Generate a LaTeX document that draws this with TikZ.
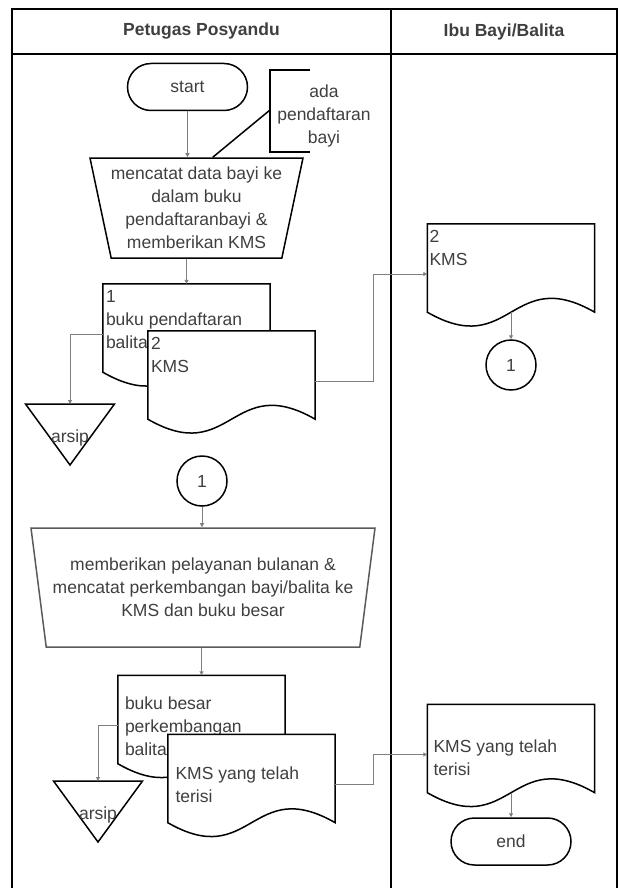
\documentclass[tikz,border=0pt]{standalone}
\usepackage{fontspec}
\setmainfont{Liberation Sans}
\usepackage{tikz}
\usetikzlibrary{calc,positioning,shapes.geometric,shapes.misc,arrows.meta}
\definecolor{flowgray}{HTML}{7F7F7F}
\definecolor{textgray}{HTML}{3F3F3F}
\definecolor{edgegray}{HTML}{5A5A5A}

\newcommand{\docoutline}[1]{%
  \draw[shapeline, fill=white] (#1.north west) -- (#1.north east) -- (#1.south east)
    .. controls ($(#1.south)+(0,-48)$) and ($(#1.south)+(0,48)$) .. (#1.south west) -- cycle;}

\begin{document}
\begin{tikzpicture}[x=1pt, y=-1pt,
  lane/.style={draw=black, line width=1.8pt},
  shapeline/.style={draw=black, line width=1.5pt},
  flow/.style={draw=flowgray, line width=1pt, -{Triangle[length=4pt,width=4pt]}},
  txt/.style={font=\fontsize{17.5pt}{23pt}\selectfont, text=textgray},
  head/.style={font=\fontsize{17.5pt}{21pt}\selectfont\bfseries, text=textgray},
  term/.style={txt, shapeline, rounded rectangle, minimum width=120pt, minimum height=47pt, inner sep=0pt},
  manop/.style={txt, shapeline, trapezium, trapezium left angle=104.5, trapezium right angle=104.5,
    trapezium stretches body, align=center, inner xsep=-12pt, inner ysep=0pt},
  doc/.style={minimum width=167pt, minimum height=88pt, inner sep=0pt},
  doctext/.style={txt, anchor=north west, align=left, inner sep=0pt},
  connector/.style={txt, shapeline, circle, minimum size=50pt, inner sep=0pt}]

\useasboundingbox (0,0) rectangle (619,888);

\draw[lane] (12,888) -- (12,9) -- (617,9) -- (617,888);
\draw[lane] (12,54) -- (617,54);
\draw[lane] (391,9) -- (391,888);
\node[head] (h1) at (201.5,31.5) {Petugas Posyandu};
\node[head] (h2) at (504,31.5) {Ibu Bayi/Balita};

\node[term] (st) at (187.5,87) {start};
\node[manop, minimum width=213pt, minimum height=100pt] (mc1) at (196.5,208)
  {mencatat data bayi ke\\dalam buku\\pendaftaranbayi \&\\memberikan KMS};

\coordinate (nb) at (270,70);
\draw[shapeline] ($(nb)+(40,0)$) -- (nb) -- ++(0,82) -- ++(40,0);
\node[txt, align=center] (nt) at (324,115.5) {ada\\pendaftaran\\bayi};
\draw[shapeline] ($(nb)+(0,40)$) -- ($(mc1.north west)!0.66!(mc1.north east)$);

\node[doc] (d1) at (186.5,328) {};
\node[doc] (d2) at (231.5,375) {};
\node[doc] (d3) at (511,268) {};
\docoutline{d1}
\node[doctext] (t1) at ($(d1.north west)+(3,6.5)$) {1\\buku pendaftaran\\balita};
\docoutline{d2}
\node[doctext] (t2) at ($(d2.north west)+(3,6)$) {2\\KMS};
\docoutline{d3}
\node[doctext] (t3) at ($(d3.north west)+(2,6.5)$) {2\\KMS};

\coordinate (ar1) at (70,404);
\draw[shapeline] ($(ar1)+(-44.5,0)$) -- ($(ar1)+(44.5,0)$) -- ($(ar1)+(0,61)$) -- cycle;
\node[txt, anchor=base] (a1) at ($(ar1)+(0,38)$) {arsip};

\node[connector] (c2) at (511,365) {1};
\node[connector] (c1) at (202,481) {1};

\node[manop, draw=edgegray, minimum width=344pt, minimum height=119pt] (mc2) at (203,587.5)
  {memberikan pelayanan bulanan \&\\mencatat perkembangan bayi/balita ke\\KMS dan buku besar};

\node[doc] (d4) at (201.5,719.5) {};
\node[doc] (d5) at (251.5,778.5) {};
\node[doc] (d6) at (511,748.5) {};
\docoutline{d4}
\node[doctext] (t4) at ($(d4.north west)+(7,21)$) {buku besar\\perkembangan\\balita};
\docoutline{d5}
\node[doctext] (t5) at ($(d5.north west)+(7.5,32.5)$) {KMS yang telah\\terisi};
\docoutline{d6}
\node[doctext] (t6) at ($(d6.north west)+(6,35.5)$) {KMS yang telah\\terisi};

\coordinate (ar2) at (98,781);
\draw[shapeline] ($(ar2)+(-44.5,0)$) -- ($(ar2)+(44.5,0)$) -- ($(ar2)+(0,61)$) -- cycle;
\node[txt, anchor=base] (a2) at ($(ar2)+(0,38)$) {arsip};

\node[term] (en) at (511,841.5) {end};

\coordinate (d1out) at ([yshift=-6pt]d1.west);
\coordinate (d2out) at ([yshift=-6pt]d2.east);
\coordinate (d3in) at ([yshift=-6pt]d3.west);
\coordinate (d4out) at ([yshift=-6pt]d4.west);
\coordinate (d5out) at ([yshift=-6pt]d5.east);
\coordinate (d6in) at ([yshift=-6pt]d6.west);

\draw[flow] (st.south) -- (st.south |- mc1.north);
\draw[flow] (d1.north |- mc1.south) -- (d1.north);
\draw[flow] (d1out) -| (ar1);
\draw[flow] (d2out) -- ++(58,0) |- (d3in);
\draw[flow] (d3.south) -- (c2.north);
\draw[flow] (c1.south) -- (c1.south |- mc2.north);
\draw[flow] (d4.north |- mc2.south) -- (d4.north);
\draw[flow] (d4out) -| (ar2);
\draw[flow] (d5out) -- ++(38,0) |- (d6in);
\draw[flow] (d6.south) -- (en.north);
\end{tikzpicture}
\end{document}
